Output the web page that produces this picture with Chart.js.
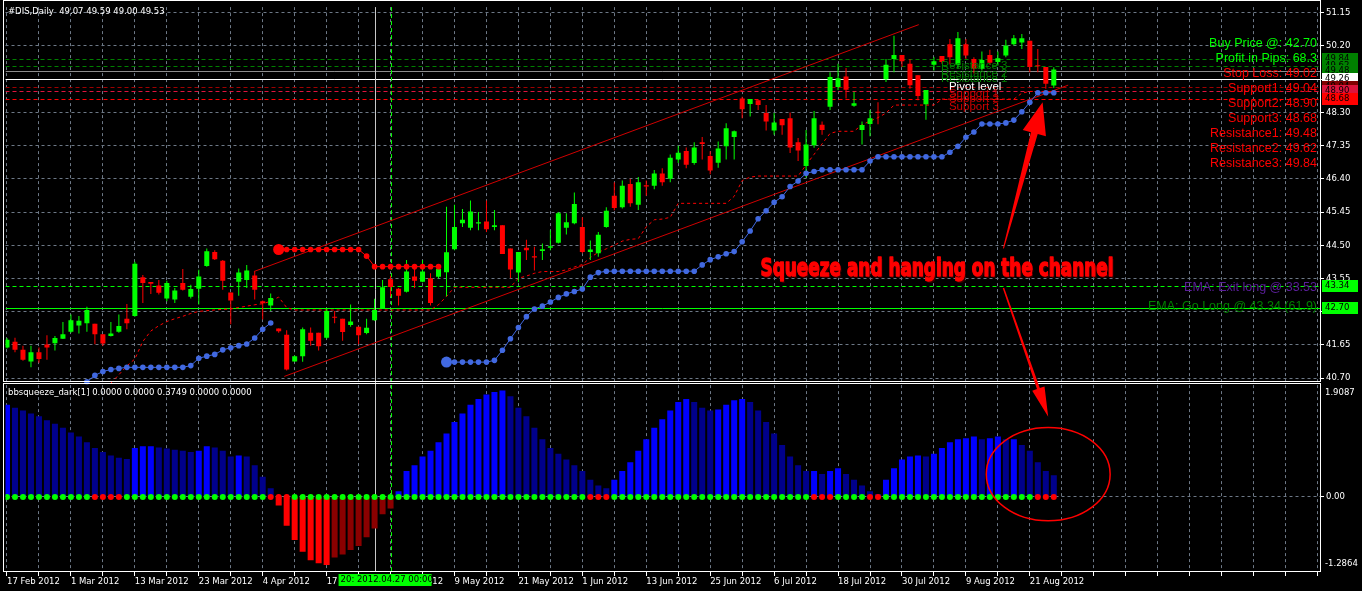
<!DOCTYPE html>
<html><head><meta charset="utf-8">
<script src="https://cdn.jsdelivr.net/npm/chart.js@4.4.1/dist/chart.umd.min.js"></script>
<style>
html,body{margin:0;padding:0;background:#000;overflow:hidden}
canvas{display:block}
</style></head><body>
<canvas id="c" width="1362" height="591"></canvas>
<script>
// ---------------- DATA ----------------
const dateLabels = ['17 Feb 2012','1 Mar 2012','13 Mar 2012','23 Mar 2012','4 Apr 2012','17 Apr 2012','27 Apr 2012','9 May 2012','21 May 2012','1 Jun 2012','13 Jun 2012','25 Jun 2012','6 Jul 2012','18 Jul 2012','30 Jul 2012','9 Aug 2012','21 Aug 2012'];
const priceTicks = [51.15,50.20,49.25,48.30,47.35,46.40,45.45,44.50,43.55,42.60,41.65,40.70];

const opens = [41.58,41.74,41.51,41.18,41.44,41.66,41.70,41.83,42.03,42.21,42.27,42.26,41.96,41.91,42.03,42.40,42.48,43.59,43.45,43.35,42.98,42.95,43.42,43.03,43.26,43.91,44.31,44.06,43.15,43.46,43.51,43.64,42.90,42.78,42.12,41.94,41.18,41.33,42.00,42.00,41.86,42.46,42.40,42.22,42.17,41.99,42.36,42.71,43.53,43.26,43.17,43.61,43.46,43.56,43.60,43.73,44.39,45.13,45.00,45.12,45.18,45.02,45.07,44.41,43.72,44.43,44.19,44.34,44.43,44.57,45.00,45.13,45.02,44.31,44.27,45.02,45.92,45.59,46.25,45.66,46.22,46.20,46.55,46.40,46.95,47.20,46.85,47.45,47.05,46.86,47.33,47.60,48.70,48.54,48.65,48.28,47.78,48.11,48.13,47.45,46.77,47.36,47.95,48.46,49.03,49.33,48.49,47.80,47.97,48.31,49.25,49.83,49.94,49.69,49.36,48.53,49.66,49.91,50.25,49.66,50.25,49.83,49.55,49.94,49.74,49.93,50.25,50.30,50.35,49.64,49.60,49.07];
const highs = [41.85,41.86,41.63,41.63,41.58,41.93,41.91,42.31,42.52,42.48,42.74,42.26,41.96,42.31,42.52,42.82,44.03,43.65,43.45,43.51,43.49,43.28,43.82,43.37,43.80,44.41,44.36,44.08,43.15,43.84,43.94,43.75,42.92,43.12,42.12,42.07,41.35,42.15,42.15,42.00,42.68,42.62,42.40,42.81,42.17,42.40,42.97,43.51,43.63,43.28,44.08,43.89,44.08,43.70,43.90,45.60,45.66,45.54,45.78,45.45,45.78,45.51,45.07,44.41,44.31,44.66,44.46,44.55,44.93,45.45,45.42,46.01,45.30,44.64,44.88,45.59,46.30,46.35,46.40,46.45,46.35,46.65,46.70,47.10,47.35,47.30,47.45,47.60,47.19,47.47,47.99,47.78,48.75,48.68,48.65,48.51,48.28,48.11,48.30,47.57,47.80,48.34,48.04,49.45,49.69,49.57,48.89,48.04,48.37,48.59,49.83,50.49,49.94,49.83,49.36,48.94,49.88,49.91,50.40,50.60,50.40,49.88,50.04,50.09,50.04,50.38,50.51,50.54,50.35,50.11,49.60,49.59];
const lows = [41.55,41.44,41.20,41.01,41.14,41.23,41.49,41.82,42.00,41.98,42.03,41.67,41.62,41.89,42.00,42.10,42.46,42.85,43.11,43.09,42.90,42.85,43.21,42.98,42.81,43.89,44.08,43.23,42.24,43.06,43.28,42.95,42.38,42.62,42.00,40.92,41.17,41.17,41.63,41.49,41.83,42.27,41.77,42.17,41.67,41.96,42.34,42.68,43.04,42.78,43.15,43.28,43.44,42.78,43.55,43.04,44.36,45.02,44.93,44.93,44.88,44.93,44.25,43.56,43.44,44.08,43.78,44.08,44.36,44.55,44.81,45.10,44.27,44.08,44.17,45.00,45.50,45.55,45.60,45.51,45.92,46.10,46.20,46.30,46.85,46.70,46.80,46.95,46.53,46.72,46.95,46.95,48.13,48.18,48.37,47.78,47.66,47.66,47.14,46.91,46.44,47.29,47.66,48.37,48.94,48.70,48.46,47.38,47.62,47.96,49.17,49.45,49.60,48.98,48.65,48.09,49.50,49.69,49.67,49.55,49.83,49.41,49.50,49.66,49.64,49.88,50.21,50.11,49.45,49.45,48.98,49.00];
const closes = [41.80,41.51,41.23,41.44,41.25,41.58,41.85,41.96,42.36,42.34,42.65,41.96,41.69,41.98,42.19,42.27,43.97,43.42,43.40,43.14,43.42,43.21,43.23,43.25,43.61,44.33,44.10,43.49,42.92,43.72,43.78,43.23,42.84,42.99,42.04,40.95,41.33,42.10,41.77,41.61,42.62,42.43,42.02,42.32,41.93,42.14,42.65,43.30,43.31,43.06,43.75,43.49,43.75,42.85,43.82,44.30,45.02,45.23,45.47,45.16,44.96,45.07,44.25,43.81,44.31,44.36,44.15,44.39,44.47,45.42,45.16,45.68,44.31,44.38,44.80,45.49,45.57,46.20,45.70,46.30,46.18,46.55,46.30,47.00,47.15,46.80,47.30,47.40,46.64,47.27,47.85,47.76,48.39,48.68,48.51,48.04,48.01,47.93,47.30,47.21,47.38,48.13,47.80,49.31,49.28,48.95,48.56,47.94,48.13,48.29,49.66,49.94,49.76,49.08,48.77,48.94,49.76,49.74,49.88,50.42,49.93,49.55,49.80,49.72,49.85,50.21,50.42,50.42,49.60,49.62,49.12,49.53];

// trailing stop (blue dots), two segments: [bar, price]
const blueStopA = [[10,40.60],[11,40.78],[12,40.89],[13,40.95],[14,40.98],[15,41.01],[16,41.01],[17,41.01],[18,41.01],[19,41.01],[20,41.01],[21,41.01],[22,41.01],[23,41.06],[24,41.27],[25,41.33],[26,41.38],[27,41.51],[28,41.57],[29,41.63],[30,41.68],[31,41.85],[32,42.10],[33,42.28]];
const blueStopB = [[55,41.16],[56,41.16],[57,41.16],[58,41.16],[59,41.16],[60,41.16],[61,41.21],[62,41.50],[63,41.83],[64,42.15],[65,42.46],[66,42.68],[67,42.76],[68,42.88],[69,43.01],[70,43.11],[71,43.18],[72,43.25],[73,43.59],[74,43.72],[75,43.76],[76,43.76],[77,43.76],[78,43.76],[79,43.76],[80,43.76],[81,43.76],[82,43.76],[83,43.76],[84,43.76],[85,43.76],[86,43.76],[87,43.94],[88,44.09],[89,44.17],[90,44.26],[91,44.32],[92,44.60],[93,44.91],[94,45.26],[95,45.49],[96,45.73],[97,45.89],[98,46.18],[99,46.34],[100,46.56],[101,46.61],[102,46.66],[103,46.66],[104,46.66],[105,46.66],[106,46.66],[107,46.66],[108,46.91],[109,47.03],[110,47.03],[111,47.03],[112,47.03],[113,47.03],[114,47.03],[115,47.03],[116,47.03],[117,47.03],[118,47.16],[119,47.33],[120,47.59],[121,47.74],[122,47.97],[123,47.97],[124,47.97],[125,48.00],[126,48.08],[127,48.32],[128,48.59],[129,48.86],[130,48.86],[131,48.86]];
// trailing stop (red dots)
const redStop = [[34,44.38],[35,44.38],[36,44.38],[37,44.38],[38,44.38],[39,44.38],[40,44.38],[41,44.38],[42,44.38],[43,44.38],[44,44.38],[45,44.19],[46,43.89],[47,43.89],[48,43.89],[49,43.89],[50,43.89],[51,43.89],[52,43.89],[53,43.89],[54,43.89]];
// dashed red trailing line
const trailLine = [[13,40.56],[14,40.80],[15,41.05],[16,41.25],[17,41.75],[18,42.05],[19,42.20],[20,42.32],[21,42.40],[22,42.47],[23,42.55],[24,42.61],[25,42.63],[26,42.65],[27,42.67],[28,42.68],[29,42.72],[30,42.76],[31,42.80],[32,42.83],[33,42.90],[34,43.02],[35,42.72],[36,42.65],[53,42.65],[54,42.80],[55,43.04],[56,43.30],[63,43.30],[64,43.56],[65,43.62],[66,43.70],[67,43.75],[69,43.75],[70,43.80],[71,43.88],[72,43.95],[73,44.15],[74,44.30],[75,44.40],[76,44.50],[77,44.62],[78,44.67],[79,44.69],[80,45.03],[81,45.23],[82,45.25],[83,45.30],[84,45.70],[90,45.70],[91,45.90],[92,46.35],[93,46.45],[94,46.48],[99,46.48],[100,46.80],[101,47.10],[102,47.40],[103,47.70],[104,47.76],[106,47.76],[107,47.95],[108,48.05],[109,48.15],[110,48.28],[111,48.51],[116,48.51],[117,48.68],[126,48.68],[127,48.85],[128,48.90],[131,48.90]];
// regression channel [bar, price]
const channelUpper = [[30.9,43.75],[114.1,50.81]];
const channelLower = [[34.7,40.75],[132.8,49.08]];
// horizontal levels
const levelValues = [49.84,49.62,49.48,49.26,49.04,48.90,48.68,43.34,42.70];
const levelNames = ['Resistance 3','Resistance 2','Resistance 1','Pivot level','Support 1','Support 2','Support 3'];
const infoLabels = ['Buy Price @: 42.70','Profit in Pips: 68.3','Stop Loss: 49.02','Support1: 49.04','Support2: 48.90','Support3: 48.68','Resistance1: 49.48','Resistance2: 49.62','Resistance3: 49.84'];
const emaLabels = ['EMA: Exit long @ 33.53','EMA: Go Long @ 43.34 (61.9)'];
const vLineBars = [46,48];
// indicator (bbsqueeze)
const squeezeVals = [1.60,1.55,1.50,1.45,1.40,1.33,1.27,1.20,1.12,1.05,
 0.95,0.85,0.78,0.72,0.68,0.66,0.85,0.88,0.88,0.86,
 0.84,0.82,0.80,0.78,0.80,0.88,0.86,0.80,0.70,0.72,
 0.70,0.55,0.35,0.15,-0.15,-0.50,-0.75,-0.95,-1.10,-1.15,
 -1.18,-1.05,-1.00,-0.92,-0.85,-0.70,-0.55,-0.30,-0.20,0.10,
 0.45,0.55,0.70,0.80,0.95,1.10,1.30,1.45,1.60,1.70,
 1.78,1.82,1.85,1.75,1.55,1.40,1.20,1.00,0.85,0.75,
 0.65,0.55,0.45,0.30,0.20,0.15,0.30,0.45,0.60,0.80,
 1.00,1.20,1.35,1.50,1.65,1.70,1.65,1.55,1.50,1.52,
 1.60,1.68,1.70,1.65,1.50,1.30,1.10,0.90,0.70,0.55,
 0.45,0.45,0.40,0.45,0.50,0.40,0.30,0.20,0.10,0.05,
 0.30,0.50,0.65,0.70,0.72,0.70,0.75,0.85,0.95,1.00,
 1.02,1.05,1.00,1.02,1.05,1.00,1.00,0.90,0.80,0.60,
 0.45,0.3749];
const squeezeOnBars = [11,12,13,14,33,34,35,73,74,75,101,102,103,108,109,129,130,131];
const indicatorRange = [1.9087,-1.2864];

// ---------------- STYLE ----------------
const GRID = '#6d7886';
const SMALL = '8.5px "DejaVu Sans"';
const levelStyles = [
  {c:'#008000',dash:[4,3]},{c:'#008000',dash:[4,3]},{c:'#8c8c8c',dash:[]},{c:'#ffffff',dash:[]},
  {c:'#a00000',dash:[4,3]},{c:'#dc143c',dash:[4,3]},{c:'#ff0000',dash:[4,3]},
  {c:'#00ff00',dash:[4,3]},{c:'#00ff00',dash:[]}
];
const levelNameColors = ['#008000','#008000','#008000','#ffffff','#d00000','#d00000','#d00000'];
const levelBoxColors = ['#008000','#008000','#008000','#ffffff','#800000','#dc143c','#ff0000','#00ff00','#00ff00'];
const infoColors = ['#00ff00','#00ff00','#ff0000','#ff0000','#ff0000','#ff0000','#ff0000','#ff0000','#ff0000'];

const idx = opens.map((_, i) => i);
const candleColors = idx.map(i => closes[i] >= opens[i] ? '#00ff00' : '#ff0000');
const histColors = squeezeVals.map((v, i) => {
  const p = i > 0 ? squeezeVals[i-1] : v;
  if (v >= 0) return v >= p ? '#0000ff' : '#00008b';
  return v <= p ? '#ff0000' : '#8b0000';
});
const dotColors = idx.map(i => squeezeOnBars.includes(i) ? '#ff0000' : '#00ff00');
const pairs = arr => arr.map(([x, y]) => ({x, y}));
const xTickVals = []; for (let v = 0; v <= 164; v += 4) xTickVals.push(v);

const overlay = {
  id: 'overlay',
  beforeDatasetsDraw(chart) {
    const {ctx, chartArea: a, scales: {x, y}} = chart;
    ctx.save();
    ctx.beginPath(); ctx.rect(a.left, a.top, a.right - a.left, y.bottom - a.top); ctx.clip();
    levelValues.forEach((v, k) => {
      const st = levelStyles[k];
      const py = Math.round(y.getPixelForValue(v)) + 0.5;
      ctx.strokeStyle = st.c; ctx.lineWidth = 1; ctx.setLineDash(st.dash);
      ctx.beginPath(); ctx.moveTo(a.left, py); ctx.lineTo(a.right, py); ctx.stroke();
    });
    ctx.restore();
    ctx.save();
    vLineBars.forEach((b, k) => {
      const px = Math.round(x.getPixelForValue(b)) + 0.5;
      ctx.strokeStyle = k === 0 ? '#c8c8c8' : '#00ff00';
      ctx.setLineDash(k === 0 ? [] : [4,3]);
      ctx.beginPath(); ctx.moveTo(px, a.top); ctx.lineTo(px, a.bottom); ctx.stroke();
    });
    ctx.restore();
  },
  afterDraw(chart) {
    const {ctx, chartArea: a, scales: {x, y, yi}} = chart;
    ctx.save();
    // frames
    ctx.strokeStyle = '#ffffff'; ctx.lineWidth = 1; ctx.setLineDash([]);
    ctx.strokeRect(3.5, 0.5, 1317, 381);
    ctx.strokeRect(3.5, 383.5, 1317, 188);
    // header texts
    ctx.font = SMALL; ctx.fillStyle = '#ffffff'; ctx.textBaseline = 'middle'; ctx.textAlign = 'left';
    ctx.fillText('#DIS,Daily  ' + [opens[131], highs[131], lows[131], closes[131]].map(v => v.toFixed(2)).join(' '), 8, 12);
    ctx.fillText('bbsqueeze_dark[1] 0.0000 0.0000 ' + squeezeVals[131].toFixed(4) + ' 0.0000 0.0000', 8, 393);
    // indicator range labels
    ctx.fillText(indicatorRange[0].toFixed(4), 1325, yi.getPixelForValue(indicatorRange[0]) + 6);
    ctx.fillText(indicatorRange[1].toFixed(4), 1325, yi.getPixelForValue(indicatorRange[1]) - 7);
    // level names in chart
    ctx.font = '11.5px "Liberation Sans"'; ctx.textBaseline = 'top';
    levelNames.forEach((n, k) => {
      ctx.fillStyle = levelNameColors[k];
      const bx = k < 3 ? 117 : 118;
      ctx.fillText(n, x.getPixelForValue(bx) - 1, y.getPixelForValue(levelValues[k]) + 2);
    });
    // right info labels
    ctx.font = '12.5px "Liberation Sans"'; ctx.textAlign = 'right'; ctx.textBaseline = 'middle';
    infoLabels.forEach((t, k) => { ctx.fillStyle = infoColors[k]; ctx.fillText(t, 1317, 44 + 15 * k); });
    ctx.fillStyle = '#5b1f9a'; ctx.fillText(emaLabels[0], 1317, y.getPixelForValue(levelValues[7]) + 2);
    ctx.fillStyle = '#008000'; ctx.fillText(emaLabels[1], 1317, y.getPixelForValue(levelValues[8]) - 2);
    // price boxes on the axis
    ctx.font = SMALL; ctx.textAlign = 'left';
    levelValues.forEach((v, k) => {
      const py = Math.round(y.getPixelForValue(v));
      ctx.fillStyle = levelBoxColors[k]; ctx.fillRect(1322, py - 6, 36, 12);
      ctx.fillStyle = '#000000'; ctx.fillText(v.toFixed(2), 1325, py);
    });
    // date box on the x axis
    const dx = x.getPixelForValue(vLineBars[1]);
    ctx.fillStyle = '#00ff00'; ctx.fillRect(dx - 52, 574, 93, 12);
    ctx.fillStyle = '#000000'; ctx.fillText('20: 2012.04.27 00:00', dx - 50, 580);
    // Squeeze text
    const sx = x.getPixelForValue(94.3), sy = y.getPixelForValue(43.79);
    ctx.font = '900 24px "DejaVu Sans"';
    const txt = 'Squeeze and hanging on the channel';
    const w = ctx.measureText(txt).width;
    ctx.translate(sx, sy); ctx.scale(353 / w, 1);
    ctx.fillStyle = '#300000'; ctx.fillText(txt, 2, 2);
    ctx.strokeStyle = '#ff0000'; ctx.lineWidth = 1.5; ctx.lineJoin = 'round'; ctx.strokeText(txt, 0, 0);
    ctx.fillStyle = '#ff0000'; ctx.fillText(txt, 0, 0);
    ctx.setTransform(1, 0, 0, 1, 0, 0);
    // arrows
    const arrow = (x1, y1, x2, y2, tailW, neckW, headW, headL) => {
      const dxv = x2 - x1, dyv = y2 - y1, L = Math.hypot(dxv, dyv);
      const ux = dxv / L, uy = dyv / L, nx = -uy, ny = ux;
      const bx = x2 - ux * headL, by = y2 - uy * headL;
      ctx.beginPath();
      ctx.moveTo(x1 + nx * tailW / 2, y1 + ny * tailW / 2);
      ctx.lineTo(bx + nx * neckW / 2, by + ny * neckW / 2);
      ctx.lineTo(bx + nx * headW / 2, by + ny * headW / 2);
      ctx.lineTo(x2, y2);
      ctx.lineTo(bx - nx * headW / 2, by - ny * headW / 2);
      ctx.lineTo(bx - nx * neckW / 2, by - ny * neckW / 2);
      ctx.lineTo(x1 - nx * tailW / 2, y1 - ny * tailW / 2);
      ctx.closePath(); ctx.fillStyle = '#ff0000'; ctx.fill();
    };
    arrow(x.getPixelForValue(124.7), y.getPixelForValue(44.41), x.getPixelForValue(129.6), y.getPixelForValue(48.59), 1, 7, 24, 32);
    arrow(x.getPixelForValue(124.7), y.getPixelForValue(43.28), x.getPixelForValue(130.3), yi.getPixelForValue(1.39), 1.5, 3, 13, 30);
    // ellipse
    const ex = x.getPixelForValue(130.3), ey = yi.getPixelForValue(0.395);
    const erx = x.getPixelForValue(130.3 + 7.75) - ex, ery = yi.getPixelForValue(0.395 - 0.81) - ey;
    ctx.strokeStyle = '#ff0000'; ctx.lineWidth = 1.5;
    ctx.beginPath(); ctx.ellipse(ex, ey, erx, ery, 0, 0, Math.PI * 2); ctx.stroke();
    ctx.restore();
  }
};

new Chart(document.getElementById('c'), {
  type: 'bar',
  data: {
    datasets: [
      {type:'line', data: pairs(channelUpper), borderColor:'#d00000', borderWidth:1, pointRadius:0, order:12},
      {type:'line', data: pairs(channelLower), borderColor:'#d00000', borderWidth:1, pointRadius:0, order:12},
      {type:'line', data: pairs(trailLine), borderColor:'#ff0000', borderWidth:1, borderDash:[3,3], pointRadius:0, order:11},
      {type:'bar', data: idx.map(i => ({x:i, y:[lows[i], highs[i]]})), backgroundColor: candleColors, barThickness:1, grouped:false, minBarLength:1, inflateAmount:0, order:9},
      {type:'bar', data: idx.map(i => ({x:i, y:[opens[i], closes[i]]})), backgroundColor: candleColors, barThickness:5, grouped:false, minBarLength:1, inflateAmount:0, order:8},
      {type:'line', data: pairs(blueStopA), borderColor:'#4169e1', borderWidth:1, pointRadius:2.8, pointBackgroundColor:'#4169e1', pointBorderWidth:0, order:5},
      {type:'line', data: pairs(blueStopB), borderColor:'#4169e1', borderWidth:1, pointRadius: c => c.dataIndex === 0 ? 5.5 : 2.8, pointBackgroundColor:'#4169e1', pointBorderWidth:0, order:5},
      {type:'line', data: pairs(redStop), borderColor:'#ff0000', borderWidth:1, pointRadius: c => c.dataIndex === 0 ? 5.5 : 2.8, pointBackgroundColor:'#ff0000', pointBorderWidth:0, order:5},
      {type:'bar', yAxisID:'yi', data: idx.map(i => ({x:i, y:squeezeVals[i]})), backgroundColor: histColors, barThickness:6, grouped:false, inflateAmount:0, order:7},
      {type:'line', yAxisID:'yi', showLine:false, data: idx.map(i => ({x:i, y:0})), pointRadius:3, pointBackgroundColor: dotColors, pointBorderWidth:0, order:4}
    ]
  },
  options: {
    responsive:false, animation:false, devicePixelRatio:1, events:[],
    layout:{padding:{left:4, top:1, right:0, bottom:0}},
    plugins:{legend:{display:false}, tooltip:{enabled:false}},
    scales:{
      x:{type:'linear', min:-0.1875, max:164.3125, offset:false, position:'bottom',
        grid:{offset:false, color:GRID, lineWidth:1, tickColor:'#ffffff', tickLength:4},
        border:{display:false, dash:[3,3]},
        ticks:{color:'#ffffff', font:{family:'DejaVu Sans', size:8.5}, align:'start', autoSkip:false, maxRotation:0, minRotation:0, padding:1,
          callback: v => (v % 8 === 0 && v / 8 < dateLabels.length) ? dateLabels[v / 8] : ''},
        afterBuildTicks: s => { s.ticks = xTickVals.map(v => ({value:v})); },
        afterFit: s => { s.height = 19; }},
      y:{type:'linear', position:'right', stack:'p', stackWeight:381.5, min:40.5191, max:51.3112,
        grid:{color:GRID, lineWidth:1, tickColor:'#ffffff', tickLength:4},
        border:{display:false, dash:[3,3]},
        ticks:{color:'#ffffff', font:{family:'DejaVu Sans', size:8.5}, padding:2, callback: v => v.toFixed(2)},
        afterBuildTicks: s => { s.ticks = priceTicks.map(v => ({value:v})); },
        afterFit: s => { s.width = 42; }},
      yi:{type:'linear', position:'right', stack:'p', stackWeight:189.5, min:-1.3036, max:1.9516,
        grid:{color:GRID, lineWidth:1, tickColor:'#ffffff', tickLength:4},
        border:{display:false, dash:[3,3]},
        ticks:{color:'#ffffff', font:{family:'DejaVu Sans', size:8.5}, padding:2, callback: v => v.toFixed(2)},
        afterBuildTicks: s => { s.ticks = [{value:0}]; },
        afterFit: s => { s.width = 42; }}
    }
  },
  plugins:[overlay]
});
</script></body></html>
